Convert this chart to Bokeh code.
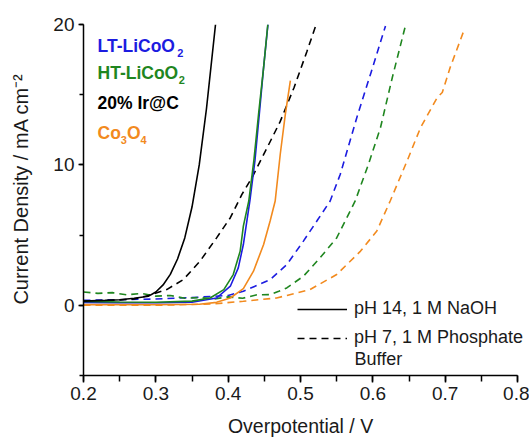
from bokeh.plotting import figure
from bokeh.models import Label, Legend, LegendItem, SingleIntervalTicker, Range1d
from bokeh.embed import file_html
from bokeh.resources import INLINE

FONT = "Liberation Sans"

# ---- data ----
ir_naoh_x = [0.20, 0.23, 0.25, 0.27, 0.29, 0.30, 0.31, 0.32, 0.33, 0.34, 0.35, 0.36, 0.37, 0.3825]
ir_naoh_y = [0.30, 0.35, 0.40, 0.50, 0.65, 0.95, 1.45, 2.20, 3.30, 4.80, 7.00, 10.0, 14.0, 20.0]

ir_pbs_x = [0.20, 0.24, 0.27, 0.29, 0.315, 0.338, 0.361, 0.384, 0.403, 0.419, 0.433, 0.454, 0.472, 0.491, 0.509, 0.521]
ir_pbs_y = [0.30, 0.35, 0.45, 0.70, 1.12, 1.83, 3.14, 4.80, 6.24, 7.90, 9.10, 11.24, 13.1, 15.5, 18.1, 19.9]

ht_naoh_x = [0.20, 0.25, 0.30, 0.35, 0.375, 0.394, 0.407, 0.4166, 0.421, 0.4285, 0.4355, 0.442, 0.449, 0.4548]
ht_naoh_y = [0.28, 0.24, 0.22, 0.30, 0.52, 1.12, 2.19, 3.86, 5.64, 7.43, 10.3, 13.6, 16.95, 20.0]

lt_naoh_x = [0.20, 0.25, 0.30, 0.35, 0.384, 0.403, 0.414, 0.421, 0.430, 0.437, 0.443, 0.449, 0.455]
lt_naoh_y = [0.20, 0.18, 0.18, 0.22, 0.52, 1.36, 2.67, 4.33, 7.43, 10.3, 13.6, 16.95, 20.0]

co_naoh_x = [0.20, 0.30, 0.36, 0.384, 0.403, 0.421, 0.435, 0.449, 0.458, 0.465, 0.472, 0.479, 0.486]
co_naoh_y = [0.05, 0.05, 0.08, 0.21, 0.52, 1.19, 2.43, 4.33, 6.00, 7.43, 10.76, 13.6, 16.0]

lt_pbs_x = [0.20, 0.25, 0.30, 0.35, 0.40, 0.421, 0.458, 0.481, 0.504, 0.5226, 0.541, 0.555, 0.578, 0.597, 0.6175]
lt_pbs_y = [0.35, 0.40, 0.45, 0.55, 0.70, 1.00, 1.83, 2.90, 4.57, 6.00, 7.43, 9.33, 13.4, 16.5, 19.9]

ht_pbs_x = [0.20, 0.22, 0.24, 0.26, 0.28, 0.30, 0.32, 0.34, 0.36, 0.38, 0.40, 0.42, 0.44, 0.458, 0.47, 0.481,
            0.504, 0.527, 0.550, 0.564, 0.5756, 0.594, 0.6106, 0.627, 0.645]
ht_pbs_y = [0.95, 0.85, 0.90, 0.75, 0.85, 0.65, 0.70, 0.50, 0.55, 0.45, 0.60, 0.50, 0.75, 0.76, 1.00, 1.24,
            2.07, 3.38, 4.80, 6.24, 7.43, 10.05, 12.66, 16.24, 19.9]

co_pbs_x = [0.20, 0.30, 0.38, 0.421, 0.467, 0.513, 0.550, 0.583, 0.6055, 0.624, 0.6475, 0.666, 0.689, 0.696, 0.707, 0.7268]
co_pbs_y = [0.00, 0.00, 0.10, 0.29, 0.52, 1.12, 2.19, 3.86, 5.29, 7.43, 10.3, 12.66, 14.8, 15.16, 16.95, 19.7]

BLUE = "#1c1ce0"
GREEN = "#1f861f"
ORANGE = "#f28a1e"
BLACK = "#000000"
TXT = "#1a1a1a"
DASH = "7 5"
LW = 1.6
NB = "\u00a0"

p = figure(width=529, height=440, x_range=Range1d(0.2, 0.8152), y_range=Range1d(-5, 20),
           output_backend="svg", toolbar_location=None,
           min_border_left=83, min_border_right=1, min_border_top=24, min_border_bottom=65)
p.outline_line_color = None
p.xgrid.visible = False
p.ygrid.visible = False
p.background_fill_color = "white"
p.border_fill_color = "white"

p.xaxis.ticker = SingleIntervalTicker(interval=0.1, num_minor_ticks=2)
p.yaxis.ticker = SingleIntervalTicker(interval=10, num_minor_ticks=2)
p.xaxis.bounds = (0.2, 0.8)
for ax in (p.xaxis, p.yaxis):
    ax.axis_line_width = 1.5
    ax.major_tick_line_width = 1.5
    ax.minor_tick_line_width = 1.5
    ax.major_tick_in = 0
    ax.minor_tick_in = 0
    ax.major_label_text_font = FONT
    ax.major_label_text_font_size = "19px"
    ax.major_label_text_color = TXT
    ax.axis_line_color = BLACK
    ax.major_tick_line_color = BLACK
    ax.minor_tick_line_color = BLACK
    ax.axis_label_text_font = FONT
    ax.axis_label_text_font_style = "normal"
    ax.axis_label_text_color = TXT
p.xaxis.major_tick_out = 7
p.xaxis.minor_tick_out = 6
p.xaxis.major_label_standoff = 4
p.yaxis.major_tick_out = 5
p.yaxis.minor_tick_out = 4
p.yaxis.major_label_standoff = 4

p.xaxis.axis_label = "Overpotential / V" + NB * 2
p.xaxis.axis_label_text_font_size = "19.5px"
p.xaxis.axis_label_standoff = 12
p.yaxis.axis_label = NB * 4 + "Current Density / mA cm\u207b\u00b2"
p.yaxis.axis_label_text_font_size = "20px"
p.yaxis.axis_label_standoff = 18

p.line(lt_pbs_x, lt_pbs_y, color=BLUE, line_width=LW, line_dash=DASH)
p.line(ht_pbs_x, ht_pbs_y, color=GREEN, line_width=LW, line_dash=DASH)
p.line(co_pbs_x, co_pbs_y, color=ORANGE, line_width=LW, line_dash=DASH)
r_dash = p.line(ir_pbs_x, ir_pbs_y, color=BLACK, line_width=LW, line_dash=DASH)
p.line(co_naoh_x, co_naoh_y, color=ORANGE, line_width=LW)
p.line(lt_naoh_x, lt_naoh_y, color=BLUE, line_width=LW)
p.line(ht_naoh_x, ht_naoh_y, color=GREEN, line_width=LW)
r_solid = p.line(ir_naoh_x, ir_naoh_y, color=BLACK, line_width=LW)

legend = Legend(items=[LegendItem(label="pH 14, 1 M NaOH", renderers=[r_solid]),
                       LegendItem(label="pH 7, 1 M Phosphate", renderers=[r_dash])],
                location=(214, 27), glyph_width=50, glyph_height=20, label_height=20,
                label_standoff=7, spacing=8, padding=0, margin=0,
                border_line_color=None, background_fill_alpha=0,
                label_text_font=FONT, label_text_font_size="18px", label_text_color=TXT)
p.add_layout(legend)

def lab(x, y, t, size, color=BLACK, bold=False, align="left", baseline="alphabetic"):
    p.add_layout(Label(x=x, y=y, text=t, text_font=FONT, text_font_size=size, text_color=color,
                       text_font_style="bold" if bold else "normal",
                       text_align=align, text_baseline=baseline))

lab(0.5747, -3.85, "Buffer", "18px", color=TXT)

# material labels with subscripts
lab(0.2194, 18.50, "LT-LiCoO", "17.5px", BLUE, True)
lab(0.3295, 18.00, "2", "11px", BLUE, True)
lab(0.2194, 16.57, "HT-LiCoO", "17.5px", GREEN, True)
lab(0.3317, 16.07, "2", "11px", GREEN, True)
lab(0.2194, 14.43, "20% Ir@C", "17.5px", BLACK, True)
lab(0.2194, 12.30, "Co", "17.5px", ORANGE, True)
lab(0.2516, 11.80, "3", "11px", ORANGE, True)
lab(0.2600, 12.30, "O", "17.5px", ORANGE, True)
lab(0.2788, 11.80, "4", "11px", ORANGE, True)

open("out.html", "w").write(file_html(p, INLINE))
